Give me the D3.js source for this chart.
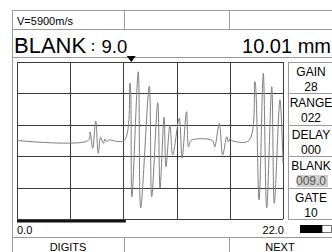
<!DOCTYPE html>
<html><head><meta charset="utf-8">
<script src="https://cdn.jsdelivr.net/npm/d3@7/dist/d3.min.js"></script>
<style>
html,body{margin:0;padding:0;background:#fff;}
svg{display:block;font-family:"Liberation Sans",Arial,sans-serif;}
</style></head>
<body><svg id="c" width="332" height="252"></svg>
<script>
// ---- data ----
const velocity = "V=5900m/s";
const blankLabel = "BLANK";
const blankColon = "：";
const blankValue = 9.0;
const thickness = "10.01 mm";
const rangeMin = 0.0, rangeMax = 22.0;
const markerPos = 9.45;
const traceX = [0, 5.90, 6.04, 6.26, 6.51, 6.72, 6.92, 7.14, 7.28, 7.42, 7.55, 8.87,
  9.35, 9.50, 10.03, 10.23, 10.94, 11.14, 11.64, 11.83, 12.16, 12.32, 12.65, 12.88,
  13.42, 13.65, 14.02, 14.19, 14.39, 16.16, 16.35, 16.73, 17.01, 17.35, 17.48, 17.62,
  17.76, 19.19, 19.68, 20.02, 20.37, 20.65, 21.07, 21.28, 21.75, 22.0];
const traceY = [0, 0, 10.8, -9.9, 24.8, -16.3, 4.1, -3.6, 1.9, -1.5, 0.6, 0,
  73.2, -72, 87.6, -86, 69.4, -71.6, 48.2, -60.5, 29.6, -33.4, 19.7, -18.5,
  28.3, -22.3, 36.7, -8.3, 0, 0, -8.3, 21.9, -18.5, 4.8, -1.9, 2.5,
  0, 0, 74.9, -75.8, 85.6, -86, 68.5, -80, 51.6, -28.7];
const gridY = [-100, -60, -20, 20, 60, 100];
const gridX = [0, 4.4, 8.8, 13.2, 17.6, 22.0];
const panelLabels = ["GAIN", "RANGE", "DELAY", "BLANK", "GATE"];
const panelValues = ["28", "022", "000", "009.0", "10"];
const panelHighlight = [false, false, false, true, false];
const tickLabels = ["0.0", "22.0"];
const buttons = ["DIGITS", "", "NEXT"];
const batteryLevel = 0.72;

// ---- layout ----
const svg = d3.select("#c");
const L = 17, R = 283, T = 62, B = 219;
const x = d3.scaleLinear().domain([rangeMin, rangeMax]).range([L, R]);
const y = d3.scaleLinear().domain([-100, 100]).range([B, T]);
const frameC = "#9a9a9a", gridC = "#3c3c3c";

function line(x1, y1, x2, y2, c, w) {
  svg.append("line").attr("x1", x1).attr("y1", y1).attr("x2", x2).attr("y2", y2)
    .attr("stroke", c).attr("stroke-width", w || 1);
}
// outer frame
line(12.5, 10, 12.5, 252, frameC);
[10.5, 29.5, 57.5, 237.5].forEach(v => line(12, v, 332, v, frameC));
line(124.5, 10, 124.5, 29, frameC);
line(229.5, 10, 229.5, 29, frameC);
line(124.5, 237, 124.5, 252, frameC);
line(229.5, 237, 229.5, 252, frameC);

// header texts
svg.append("text").attr("x", 17).attr("y", 25).attr("font-size", 11).text(velocity);
const bt = svg.append("text").attr("y", 53);
bt.append("tspan").attr("x", 14).attr("font-size", 22).text(blankLabel);
bt.append("tspan").attr("x", 85).attr("dy", -2.5).attr("font-size", 16).text(blankColon);
bt.append("tspan").attr("x", 101.5).attr("dy", 2.5).attr("font-size", 18.5).text(blankValue.toFixed(1));
svg.append("text").attr("x", 331).attr("y", 53).attr("font-size", 20)
  .attr("text-anchor", "end").text(thickness);

// grid
const g = svg.append("g");
gridY.forEach(v => g.append("line").attr("x1", L).attr("x2", R)
  .attr("y1", Math.round(y(v)) + 0.5).attr("y2", Math.round(y(v)) + 0.5)
  .attr("stroke", gridC));
gridX.forEach(v => g.append("line").attr("y1", T).attr("y2", B)
  .attr("x1", Math.round(x(v)) + 0.5).attr("x2", Math.round(x(v)) + 0.5)
  .attr("stroke", gridC));

// trace
const pts = traceX.map((v, i) => [v, traceY[i]]);
svg.append("path").datum(pts)
  .attr("d", d3.line().curve(d3.curveCatmullRom.alpha(0.5)).x(d => x(d[0])).y(d => y(d[1])))
  .attr("fill", "none").attr("stroke", "#808080").attr("stroke-width", 1);

// marker triangle
const mx = x(markerPos);
svg.append("path").attr("d", `M${mx - 4.5},56 L${mx + 4.5},56 L${mx},62 Z`).attr("fill", "#000");

// blank bar
svg.append("rect").attr("x", x(rangeMin)).attr("y", 220).attr("width", x(blankValue) - x(rangeMin))
  .attr("height", 2.5).attr("fill", "#111");

// tick labels
svg.append("text").attr("x", 17).attr("y", 234).attr("font-size", 11).text(tickLabels[0]);
svg.append("text").attr("x", 284).attr("y", 234).attr("font-size", 11)
  .attr("text-anchor", "end").text(tickLabels[1]);

// battery
svg.append("rect").attr("x", 300.5).attr("y", 225.5).attr("width", 31).attr("height", 7)
  .attr("fill", "#fff").attr("stroke", "#777");
svg.append("rect").attr("x", 300).attr("y", 225).attr("width", 31 * batteryLevel).attr("height", 8)
  .attr("fill", "#000");

// right panel
const PL = 288, PR = 333;
const rows = gridY.slice().reverse();
line(PL + 0.5, T, PL + 0.5, B, frameC);
panelLabels.forEach((lab, i) => {
  const top = Math.round(y(rows[i]));
  line(PL, top + 0.5, PR, top + 0.5, frameC);
  const cx = 311;
  svg.append("text").attr("x", cx).attr("y", top + 13.5).attr("font-size", 12)
    .attr("text-anchor", "middle").text(lab);
  if (panelHighlight[i]) {
    svg.append("rect").attr("x", 297).attr("y", top + 19).attr("width", 31).attr("height", 12)
      .attr("fill", "#cfcfcf");
  }
  svg.append("text").attr("x", cx).attr("y", top + 29).attr("font-size", 12)
    .attr("text-anchor", "middle").attr("fill", panelHighlight[i] ? "#555" : "#000").text(panelValues[i]);
});
line(PL, B + 0.5, PR, B + 0.5, frameC);

// bottom buttons
const bx = [68, 177, 280];
buttons.forEach((b, i) => svg.append("text").attr("x", bx[i]).attr("y", 250.5)
  .attr("font-size", 11).attr("text-anchor", "middle").text(b));
</script></body></html>
